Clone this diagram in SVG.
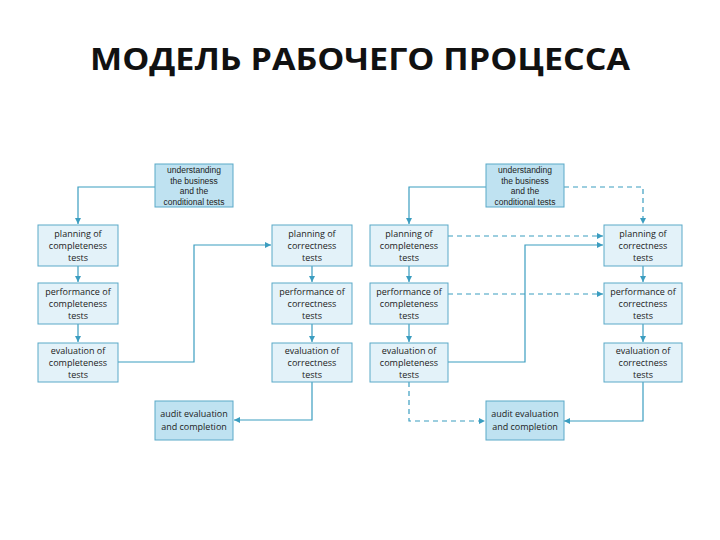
<svg xmlns="http://www.w3.org/2000/svg" width="720" height="540" viewBox="0 0 720 540">
<style>
.t{font-family:"Open Sans","Liberation Sans",sans-serif;font-size:9px;fill:#222;text-anchor:middle}
.u{font-family:"Liberation Sans","Open Sans",sans-serif;font-size:8.5px;fill:#222;text-anchor:middle}
.b{fill:#e3f2f9;stroke:#5aa9c8;stroke-width:1}
.k{fill:#bfe2f1;stroke:#5aa9c8;stroke-width:1}
.c{fill:none;stroke:#3b9dc0;stroke-width:1.2}
.d{fill:none;stroke:#3b9dc0;stroke-width:1.2;stroke-dasharray:5 4}
</style>
<defs>
<marker id="a" viewBox="0 0 6 6" refX="6" refY="3" markerWidth="6" markerHeight="6" orient="auto" markerUnits="userSpaceOnUse"><path d="M0,0L6,3L0,6z" fill="#3b9dc0"/></marker>
</defs>
<rect width="720" height="540" fill="#fff"/>
<text x="360" y="70" font-family="'Open Sans','Liberation Sans',sans-serif" font-size="30" font-weight="bold" text-anchor="middle" textLength="540" lengthAdjust="spacingAndGlyphs" fill="#111">МОДЕЛЬ РАБОЧЕГО ПРОЦЕССА</text>

<g id="connectors">
<path class="c" d="M155,187H78V224" marker-end="url(#a)"/>
<path class="c" d="M78,266V282" marker-end="url(#a)"/>
<path class="c" d="M78,324V342" marker-end="url(#a)"/>
<path class="c" d="M118,362H194V245H271" marker-end="url(#a)"/>
<path class="c" d="M312,266V282" marker-end="url(#a)"/>
<path class="c" d="M312,324V342" marker-end="url(#a)"/>
<path class="c" d="M312,382V420H234" marker-end="url(#a)"/>

<path class="c" d="M486,187H409V224" marker-end="url(#a)"/>
<path class="d" d="M564,187H643V224" marker-end="url(#a)"/>
<path class="d" d="M448,236H603" marker-end="url(#a)"/>
<path class="c" d="M409,266V282" marker-end="url(#a)"/>
<path class="c" d="M409,324V342" marker-end="url(#a)"/>
<path class="c" d="M448,362H525V245H603" marker-end="url(#a)"/>
<path class="d" d="M448,294H603" marker-end="url(#a)"/>
<path class="c" d="M643,266V282" marker-end="url(#a)"/>
<path class="c" d="M643,324V342" marker-end="url(#a)"/>
<path class="d" d="M409,382V421H485" marker-end="url(#a)"/>
<path class="c" d="M643,382V421H564" marker-end="url(#a)"/>
</g>

<g id="L_understand"><rect class="k" x="155" y="164" width="78" height="43"/>
<text class="u" x="194" y="173">understanding</text><text class="u" x="194" y="183.5">the business</text><text class="u" x="194" y="194">and the</text><text class="u" x="194" y="204.5">conditional tests</text></g>
<g id="L_plan_comp"><rect class="b" x="38" y="225" width="80" height="41"/>
<text class="t" x="78" y="237">planning of</text><text class="t" x="78" y="249">completeness</text><text class="t" x="78" y="261">tests</text></g>
<g id="L_perf_comp"><rect class="b" x="38" y="283" width="80" height="41"/>
<text class="t" x="78" y="295">performance of</text><text class="t" x="78" y="307">completeness</text><text class="t" x="78" y="319">tests</text></g>
<g id="L_eval_comp"><rect class="b" x="38" y="343" width="80" height="39"/>
<text class="t" x="78" y="354">evaluation of</text><text class="t" x="78" y="366">completeness</text><text class="t" x="78" y="378">tests</text></g>
<g id="L_plan_corr"><rect class="b" x="272" y="225" width="80" height="41"/>
<text class="t" x="312" y="237">planning of</text><text class="t" x="312" y="249">correctness</text><text class="t" x="312" y="261">tests</text></g>
<g id="L_perf_corr"><rect class="b" x="272" y="283" width="80" height="41"/>
<text class="t" x="312" y="295">performance of</text><text class="t" x="312" y="307">correctness</text><text class="t" x="312" y="319">tests</text></g>
<g id="L_eval_corr"><rect class="b" x="272" y="343" width="80" height="39"/>
<text class="t" x="312" y="354">evaluation of</text><text class="t" x="312" y="366">correctness</text><text class="t" x="312" y="378">tests</text></g>
<g id="L_audit"><rect class="k" x="155" y="401" width="78" height="39"/>
<text class="t" x="194" y="417">audit evaluation</text><text class="t" x="194" y="430">and completion</text></g>

<g id="R_understand"><rect class="k" x="486" y="164" width="78" height="43"/>
<text class="u" x="525" y="173">understanding</text><text class="u" x="525" y="183.5">the business</text><text class="u" x="525" y="194">and the</text><text class="u" x="525" y="204.5">conditional tests</text></g>
<g id="R_plan_comp"><rect class="b" x="370" y="225" width="78" height="41"/>
<text class="t" x="409" y="237">planning of</text><text class="t" x="409" y="249">completeness</text><text class="t" x="409" y="261">tests</text></g>
<g id="R_perf_comp"><rect class="b" x="370" y="283" width="78" height="41"/>
<text class="t" x="409" y="295">performance of</text><text class="t" x="409" y="307">completeness</text><text class="t" x="409" y="319">tests</text></g>
<g id="R_eval_comp"><rect class="b" x="370" y="343" width="78" height="39"/>
<text class="t" x="409" y="354">evaluation of</text><text class="t" x="409" y="366">completeness</text><text class="t" x="409" y="378">tests</text></g>
<g id="R_plan_corr"><rect class="b" x="604" y="225" width="78" height="41"/>
<text class="t" x="643" y="237">planning of</text><text class="t" x="643" y="249">correctness</text><text class="t" x="643" y="261">tests</text></g>
<g id="R_perf_corr"><rect class="b" x="604" y="283" width="78" height="41"/>
<text class="t" x="643" y="295">performance of</text><text class="t" x="643" y="307">correctness</text><text class="t" x="643" y="319">tests</text></g>
<g id="R_eval_corr"><rect class="b" x="604" y="343" width="78" height="39"/>
<text class="t" x="643" y="354">evaluation of</text><text class="t" x="643" y="366">correctness</text><text class="t" x="643" y="378">tests</text></g>
<g id="R_audit"><rect class="k" x="486" y="401" width="78" height="39"/>
<text class="t" x="525" y="417">audit evaluation</text><text class="t" x="525" y="430">and completion</text></g>
</svg>
